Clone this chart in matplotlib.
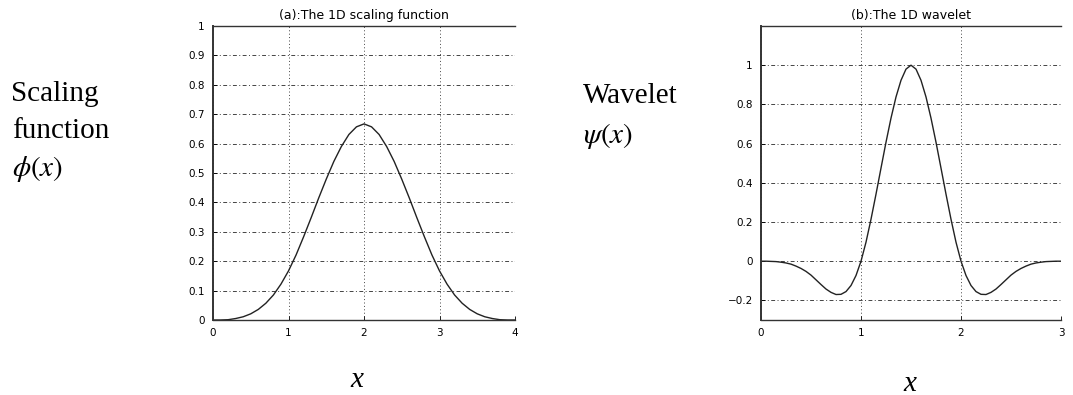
import matplotlib
matplotlib.use("Agg")
import matplotlib.pyplot as plt

# scaling function samples, x = 0 .. 4 step 0.1
phi_x = [i / 10 for i in range(41)]
phi_y = [0.000, 0.000, 0.001, 0.005, 0.011, 0.021, 0.036, 0.057, 0.085, 0.122,
         0.167, 0.221, 0.283, 0.348, 0.415, 0.479, 0.539, 0.590, 0.631, 0.657,
         0.667,
         0.657, 0.631, 0.590, 0.539, 0.479, 0.415, 0.348, 0.283, 0.221, 0.167,
         0.122, 0.085, 0.057, 0.036, 0.021, 0.011, 0.005, 0.001, 0.000, 0.000]

# wavelet samples, x = 0 .. 3 step 0.05
psi_x = [i / 20 for i in range(61)]
psi_y = [0.000, 0.000, -0.001, -0.002, -0.005, -0.009, -0.015, -0.025, -0.037, -0.052,
         -0.071, -0.095, -0.119, -0.142, -0.159, -0.170, -0.169, -0.155, -0.124, -0.073,
         0.000, 0.097, 0.214, 0.342, 0.475, 0.607, 0.730, 0.838, 0.923, 0.980,
         1.000,
         0.980, 0.923, 0.838, 0.730, 0.607, 0.475, 0.342, 0.214, 0.097, 0.000,
         -0.073, -0.124, -0.155, -0.169, -0.170, -0.159, -0.142, -0.119, -0.095, -0.071,
         -0.052, -0.037, -0.025, -0.015, -0.009, -0.005, -0.002, -0.001, 0.000, 0.000]

phi_yticks = [0, 0.1, 0.2, 0.3, 0.4, 0.5, 0.6, 0.7, 0.8, 0.9, 1]
phi_yticklabels = ["0", "0.1", "0.2", "0.3", "0.4", "0.5", "0.6", "0.7", "0.8", "0.9", "1"]
psi_yticks = [-0.2, 0, 0.2, 0.4, 0.6, 0.8, 1]
psi_yticklabels = ["\u22120.2", "0", "0.2", "0.4", "0.6", "0.8", "1"]

serif = "Liberation Serif"
W, H = 1073, 395

fig = plt.figure(figsize=(W / 100, H / 100), dpi=100)
ax1 = fig.add_axes([213 / W, 1 - 320 / H, 302 / W, 294 / H])
ax2 = fig.add_axes([761 / W, 1 - 320 / H, 300 / W, 294 / H])


def style(ax, xmax, ylim, yticks, yticklabels, title):
    ax.set_xlim(0, xmax)
    ax.set_ylim(*ylim)
    ax.set_xticks(range(xmax + 1))
    ax.set_yticks(yticks)
    ax.set_yticklabels(yticklabels)
    ax.tick_params(direction="in", length=3, width=0.6, labelsize=7.5,
                   pad=6, colors="black")
    for lab in ax.get_xticklabels() + ax.get_yticklabels():
        lab.set_fontfamily("DejaVu Sans")
    ax.spines["right"].set_visible(False)
    ax.spines["left"].set_linewidth(1.4)
    ax.spines["left"].set_color("#333333")
    for s in ("bottom", "top"):
        ax.spines[s].set_linewidth(1.0)
        ax.spines[s].set_color("#333333")
    ax.xaxis.grid(True, color="#444444", linestyle=(0, (1, 2.5)), linewidth=0.7)
    ax.yaxis.grid(True, color="#444444", linestyle=(0, (4, 2.5, 1, 2.5)), linewidth=0.7)
    ax.set_axisbelow(True)
    ax.set_title(title, fontsize=9, pad=5, fontfamily="DejaVu Sans")


ax1.plot(phi_x, phi_y, color="#222222", linewidth=1.0)
style(ax1, 4, (0, 1), phi_yticks, phi_yticklabels, "(a):The 1D scaling function")

ax2.plot(psi_x, psi_y, color="#222222", linewidth=1.0)
style(ax2, 3, (-0.3, 1.2), psi_yticks, psi_yticklabels, "(b):The 1D wavelet")

# side labels
fig.text(11 / W, 1 - 101 / H, "Scaling", fontsize=21, family=serif, va="baseline")
fig.text(12 / W, 1 - 138 / H, "function", fontsize=21, family=serif, va="baseline")
fig.text(12 / W, 1 - 176 / H, r"$\phi(x)$", fontsize=21, va="baseline",
         math_fontfamily="stix")
fig.text(583 / W, 1 - 103 / H, "Wavelet", fontsize=21, family=serif, va="baseline")
fig.text(583 / W, 1 - 143 / H, r"$\psi(x)$", fontsize=21, va="baseline",
         math_fontfamily="stix")

fig.text(357 / W, 1 - 387 / H, "x", fontsize=21, family=serif, style="italic",
         ha="center", va="baseline")
fig.text(910 / W, 1 - 391 / H, "x", fontsize=21, family=serif, style="italic",
         ha="center", va="baseline")

fig.savefig("out.png", dpi=100)
